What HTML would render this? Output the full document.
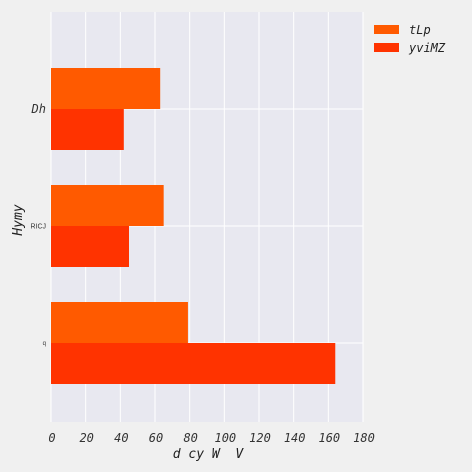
<!DOCTYPE html>
<html><head><meta charset="utf-8"><style>
body{margin:0;background:#f0f0f0;}
svg{display:block;font-family:"DejaVu Sans Mono","Liberation Mono",monospace;}
</style></head><body>
<svg id="c" width="472" height="472"></svg>
<script>
const categories=["Dh","RICJ","q"];
const labelSizes=[12,7,6];
const seriesNames=["tLp","yviMZ"];
const tLp=[63,65,79];
const yviMZ=[42,45,164];
const xTicks=[0,20,40,60,80,100,120,140,160,180];
const colors=["#ff5a00","#ff3300"];
const NS="http://www.w3.org/2000/svg";
const svg=document.getElementById('c');
const L=51,R=363,T=12,B=422;
const x=v=>L+v*(R-L)/180;
const yc=i=>109+i*117;
function el(t,a,p){const e=document.createElementNS(NS,t);for(const k in a)e.setAttribute(k,a[k]);(p||svg).appendChild(e);return e;}
const bg=el('rect',{x:L,y:T,width:R-L,height:B-T,fill:'#e8e8f0'});


xTicks.forEach(v=>{
 const g=el('line',{x1:x(v),x2:x(v),y1:T,y2:B,stroke:'#fff','stroke-width':1});
 
 
 const t=el('text',{x:x(v)+1,y:442,'text-anchor':'middle','font-size':12,'font-style':'italic',fill:'#333'});
 t.textContent=v;
 
 
});
categories.forEach((c,i)=>{
 const g=el('line',{x1:L,x2:R,y1:yc(i),y2:yc(i),stroke:'#fff','stroke-width':1});
 
 
 const t=el('text',{x:46,y:yc(i)+labelSizes[i]*0.35,'text-anchor':'end','font-size':labelSizes[i],'font-style':i===0?'italic':'normal','font-family':i===0?'DejaVu Sans Mono':'Liberation Sans',fill:'#333'});
 t.textContent=c;
 
 
});
[tLp,yviMZ].forEach((arr,s)=>{
 arr.forEach((v,i)=>{
  const r=el('rect',{x:x(0),y:s===0?yc(i)-41:yc(i),width:x(v)-x(0),height:41,fill:colors[s]});
  
  
 });
});
const xt=el('text',{x:208,y:458,'text-anchor':'middle','font-size':13,'font-style':'italic',fill:'#222',style:'white-space:pre'});
xt.textContent="d cy W  V";


const yt=el('text',{x:0,y:0,'text-anchor':'middle','font-size':13,'font-style':'italic',fill:'#222',transform:'translate(22,220) rotate(-90)'});
yt.textContent="Hymy";


seriesNames.forEach((n,s)=>{
 const r=el('rect',{x:374,y:25+s*18,width:25,height:9,fill:colors[s]});
 
 
 const t=el('text',{x:409,y:34+s*18,'font-size':12,'font-style':'italic',fill:'#222'});
 t.textContent=n;
 
 
});
</script>
</body></html>
